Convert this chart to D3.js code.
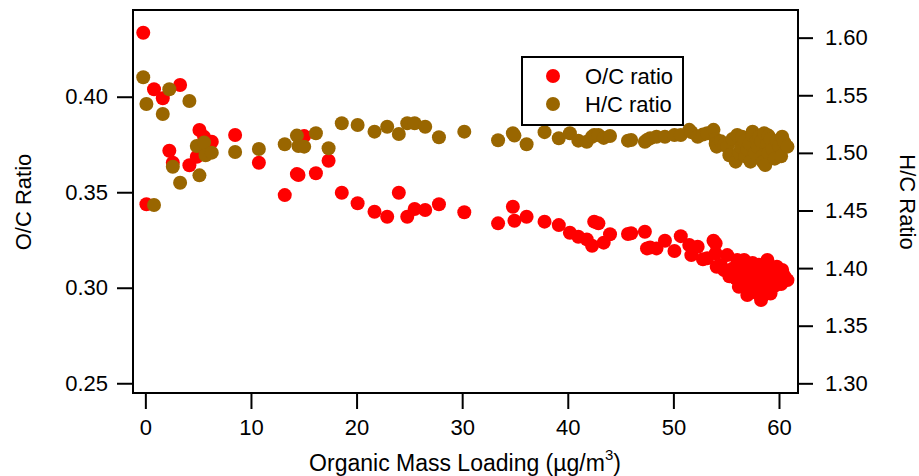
<!DOCTYPE html>
<html>
<head>
<meta charset="utf-8">
<script src="https://cdn.jsdelivr.net/npm/d3@7"></script>
<style>
  html, body { margin: 0; padding: 0; background: #fff; }
  svg { display: block; font-family: "Liberation Sans", Arial, sans-serif; }
</style>
</head>
<body>
<svg id="chart" width="919" height="476"></svg>
<script>
// ---- data ----
const loading = [
  -0.2, 0.1, 0.82, 1.65, 2.27, 2.6, 3.29, 4.17, 4.87, 5.12, 5.56, 5.7, 6.29, 8.5, 10.75,
  13.2, 14.35, 14.5, 15.04, 16.15, 17.35, 18.6, 20.1, 21.7, 22.9, 24.0, 24.8, 25.5, 26.5, 27.8,
  30.2, 33.4, 34.8, 34.95, 36.1, 37.8, 39.15, 40.2, 41.0, 41.8, 42.3, 42.5, 42.9, 43.4, 44.0,
  45.7, 46.0, 47.3, 47.5, 47.8, 48.4, 49.2, 50.1, 50.7, 51.5, 51.7, 52.3, 52.8, 53.2, 53.8,
  54.0, 54.0, 54.1, 54.5, 54.8, 55.1, 55.3, 55.6, 55.9, 56.05, 56.2, 56.4, 56.5, 56.7, 56.8,
  57.0, 57.2, 57.3, 57.5, 57.5, 57.7, 57.9, 58.0, 58.1, 58.3, 58.4, 58.5, 58.6, 58.7, 58.9,
  59.0, 59.0, 59.2, 59.4, 59.6, 59.8, 60.0, 60.2, 60.3, 60.5, 60.8
];
const ocRatio = [
  0.4335, 0.3437, 0.4039, 0.3992, 0.3717, 0.3654, 0.4061, 0.3641, 0.3686, 0.3826, 0.379, 0.372, 0.3764, 0.380, 0.3654,
  0.3485, 0.3595, 0.359, 0.3794, 0.3599, 0.3665, 0.3497, 0.3442, 0.3398, 0.3372, 0.3497, 0.3372, 0.3412, 0.3407, 0.3437,
  0.3395, 0.3337, 0.3424, 0.3351, 0.3372, 0.3346, 0.3328, 0.3288, 0.3267, 0.3253, 0.322, 0.3346, 0.3337, 0.3236, 0.328,
  0.3281, 0.3285, 0.3293, 0.3206, 0.3211, 0.3206, 0.3246, 0.3192, 0.327, 0.3224, 0.3171, 0.3215, 0.3149, 0.3154, 0.3246,
  0.318, 0.3232, 0.311, 0.3119, 0.3093, 0.3171, 0.306, 0.310, 0.305, 0.3145, 0.3005, 0.308, 0.312, 0.3145, 0.302,
  0.2962, 0.306, 0.311, 0.300, 0.313, 0.304, 0.309, 0.297, 0.312, 0.2936, 0.302, 0.296, 0.307, 0.299, 0.3145,
  0.303, 0.310, 0.297, 0.308, 0.301, 0.311, 0.305, 0.302, 0.3093, 0.306, 0.304
];
const hcRatio = [
  1.5656, 1.5424, 1.4548, 1.5338, 1.5552, 1.488, 1.4741, 1.545, 1.506, 1.4805, 1.509, 1.498, 1.5002, 1.5008, 1.5034,
  1.5075, 1.515, 1.506, 1.5054, 1.517, 1.504, 1.5257, 1.5242, 1.5184, 1.5227, 1.5164, 1.5257, 1.5257, 1.5227, 1.5135,
  1.5184, 1.511, 1.517, 1.515, 1.5075, 1.518, 1.5127, 1.517, 1.5106, 1.5097, 1.514, 1.5155, 1.5155, 1.513, 1.5147,
  1.5106, 1.5112, 1.5097, 1.5112, 1.5127, 1.514, 1.514, 1.5155, 1.5155, 1.520, 1.518, 1.514, 1.516, 1.517, 1.520,
  1.512, 1.508, 1.5054, 1.510, 1.507, 1.5054, 1.498, 1.512, 1.4924, 1.5155, 1.500, 1.505, 1.514, 1.510, 1.497,
  1.503, 1.508, 1.4924, 1.5184, 1.515, 1.500, 1.512, 1.505, 1.514, 1.510, 1.497, 1.492, 1.517, 1.4895, 1.508,
  1.500, 1.515, 1.512, 1.503, 1.495, 1.510, 1.506, 1.497, 1.514, 1.509, 1.5054
];
const xTicks = [0, 10, 20, 30, 40, 50, 60];
const ocTicks = [0.25, 0.30, 0.35, 0.40];
const hcTicks = [1.30, 1.35, 1.40, 1.45, 1.50, 1.55, 1.60];
const seriesNames = ["O/C ratio", "H/C ratio"];
const seriesColors = ["#ff0000", "#996600"];

// ---- layout ----
const L = 133, R = 798, T = 10, B = 393;
const svg = d3.select("#chart");

const x = d3.scaleLinear().domain([-1.17, 61.8]).range([L, R]);
const yOC = d3.scaleLinear().domain([0.2449, 0.4454]).range([B, T]);
const yHC = d3.scaleLinear().domain([1.2916, 1.624]).range([B, T]);

const fs = 22;

// axes
const gx = svg.append("g").attr("transform", `translate(0,${B})`)
  .call(d3.axisBottom(x).tickValues(xTicks).tickFormat(d3.format("d")).tickSize(16).tickPadding(10));
const gl = svg.append("g").attr("transform", `translate(${L},0)`)
  .call(d3.axisLeft(yOC).tickValues(ocTicks).tickFormat(d3.format(".2f")).tickSize(16).tickPadding(9));
const gr = svg.append("g").attr("transform", `translate(${R},0)`)
  .call(d3.axisRight(yHC).tickValues(hcTicks).tickFormat(d3.format(".2f")).tickSize(15).tickPadding(12));
[gx, gl, gr].forEach(g => {
  g.select(".domain").remove();
  g.selectAll(".tick line").attr("stroke", "#000").attr("stroke-width", 2);
  g.selectAll(".tick text").attr("fill", "#000").style("font-size", fs + "px")
    .style("font-family", '"Liberation Sans", Arial, sans-serif');
});

// points
const pts = loading.map((v, i) => ({ x: v, oc: ocRatio[i], hc: hcRatio[i] }));
const r = 7;
svg.append("g").selectAll("circle").data(pts).join("circle")
  .attr("cx", d => x(d.x)).attr("cy", d => yOC(d.oc)).attr("r", r).attr("fill", seriesColors[0]);
svg.append("g").selectAll("circle").data(pts).join("circle")
  .attr("cx", d => x(d.x)).attr("cy", d => yHC(d.hc)).attr("r", r).attr("fill", seriesColors[1]);

// frame
svg.append("rect").attr("x", L).attr("y", T).attr("width", R - L).attr("height", B - T)
  .attr("fill", "none").attr("stroke", "#000").attr("stroke-width", 2);

// axis titles
svg.append("text").attr("x", 465).attr("y", 471).attr("text-anchor", "middle")
  .style("font-size", "23px")
  .call(t => {
    t.append("tspan").text("Organic Mass Loading (µg/m");
    t.append("tspan").attr("dy", -11).style("font-size", "15px").text("3");
    t.append("tspan").attr("dy", 11).text(")");
  });
svg.append("text").attr("transform", `translate(31,202) rotate(-90)`).attr("text-anchor", "middle")
  .style("font-size", fs + "px").text("O/C Ratio");
svg.append("text").attr("transform", `translate(900,202) rotate(90)`).attr("text-anchor", "middle")
  .style("font-size", fs + "px").text("H/C Ratio");

// legend
const lg = svg.append("g");
lg.append("rect").attr("x", 522).attr("y", 57).attr("width", 161).attr("height", 68)
  .attr("fill", "#fff").attr("stroke", "#000").attr("stroke-width", 2);
seriesNames.forEach((name, i) => {
  const cy = 76 + i * 28;
  lg.append("circle").attr("cx", 553).attr("cy", cy).attr("r", r).attr("fill", seriesColors[i]);
  lg.append("text").attr("x", 585).attr("y", cy + 8).style("font-size", fs + "px").text(name);
});
</script>
</body>
</html>
